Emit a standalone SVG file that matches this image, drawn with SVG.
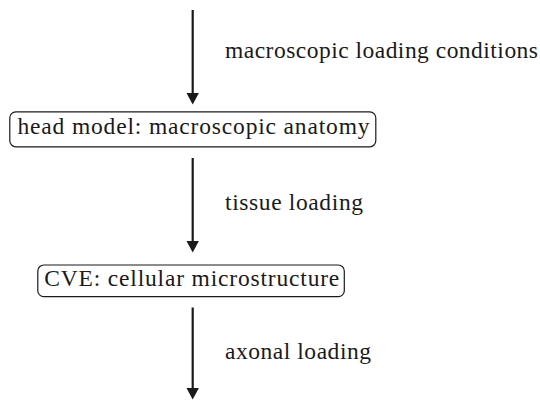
<svg xmlns="http://www.w3.org/2000/svg" width="540" height="400" viewBox="0 0 540 400">
<style>
text{font-family:"Liberation Serif","Times New Roman",serif;font-size:23.5px;fill:#1a1a1a}
.box{fill:#fff;stroke:#1a1a1a;stroke-width:1.2}
.edge{stroke:#1a1a1a;stroke-width:2.2;fill:none}
.head{fill:#1a1a1a;stroke:none}
</style>
<rect width="540" height="400" fill="#fff"/>
<g id="connectors">
<g id="edge-input">
<line class="edge" x1="192.7" y1="10" x2="192.7" y2="96"/>
<path class="head" d="M186.5,93 L198.9,93 L192.7,104.5 Z"/>
<text x="225" y="57.5" textLength="313" lengthAdjust="spacing">macroscopic loading conditions</text>
</g>
<g id="edge-tissue">
<line class="edge" x1="192.7" y1="158" x2="192.7" y2="244"/>
<path class="head" d="M186.5,241 L198.9,241 L192.7,252.5 Z"/>
<text x="225" y="209.5" textLength="138" lengthAdjust="spacing">tissue loading</text>
</g>
<g id="edge-axonal">
<line class="edge" x1="192.7" y1="307.5" x2="192.7" y2="391"/>
<path class="head" d="M186.5,388 L198.9,388 L192.7,399.5 Z"/>
<text x="225" y="358.5" textLength="146" lengthAdjust="spacing">axonal loading</text>
</g>
</g>
<g id="node-head-model">
<rect class="box" x="9.8" y="111.8" width="366" height="35" rx="6" ry="6"/>
<text x="17.5" y="134.3" textLength="352" lengthAdjust="spacing">head model: macroscopic anatomy</text>
</g>
<g id="node-cve">
<rect class="box" x="37.8" y="265" width="306.5" height="31.7" rx="6" ry="6"/>
<text x="44.3" y="286" textLength="295" lengthAdjust="spacing">CVE: cellular microstructure</text>
</g>
</svg>
